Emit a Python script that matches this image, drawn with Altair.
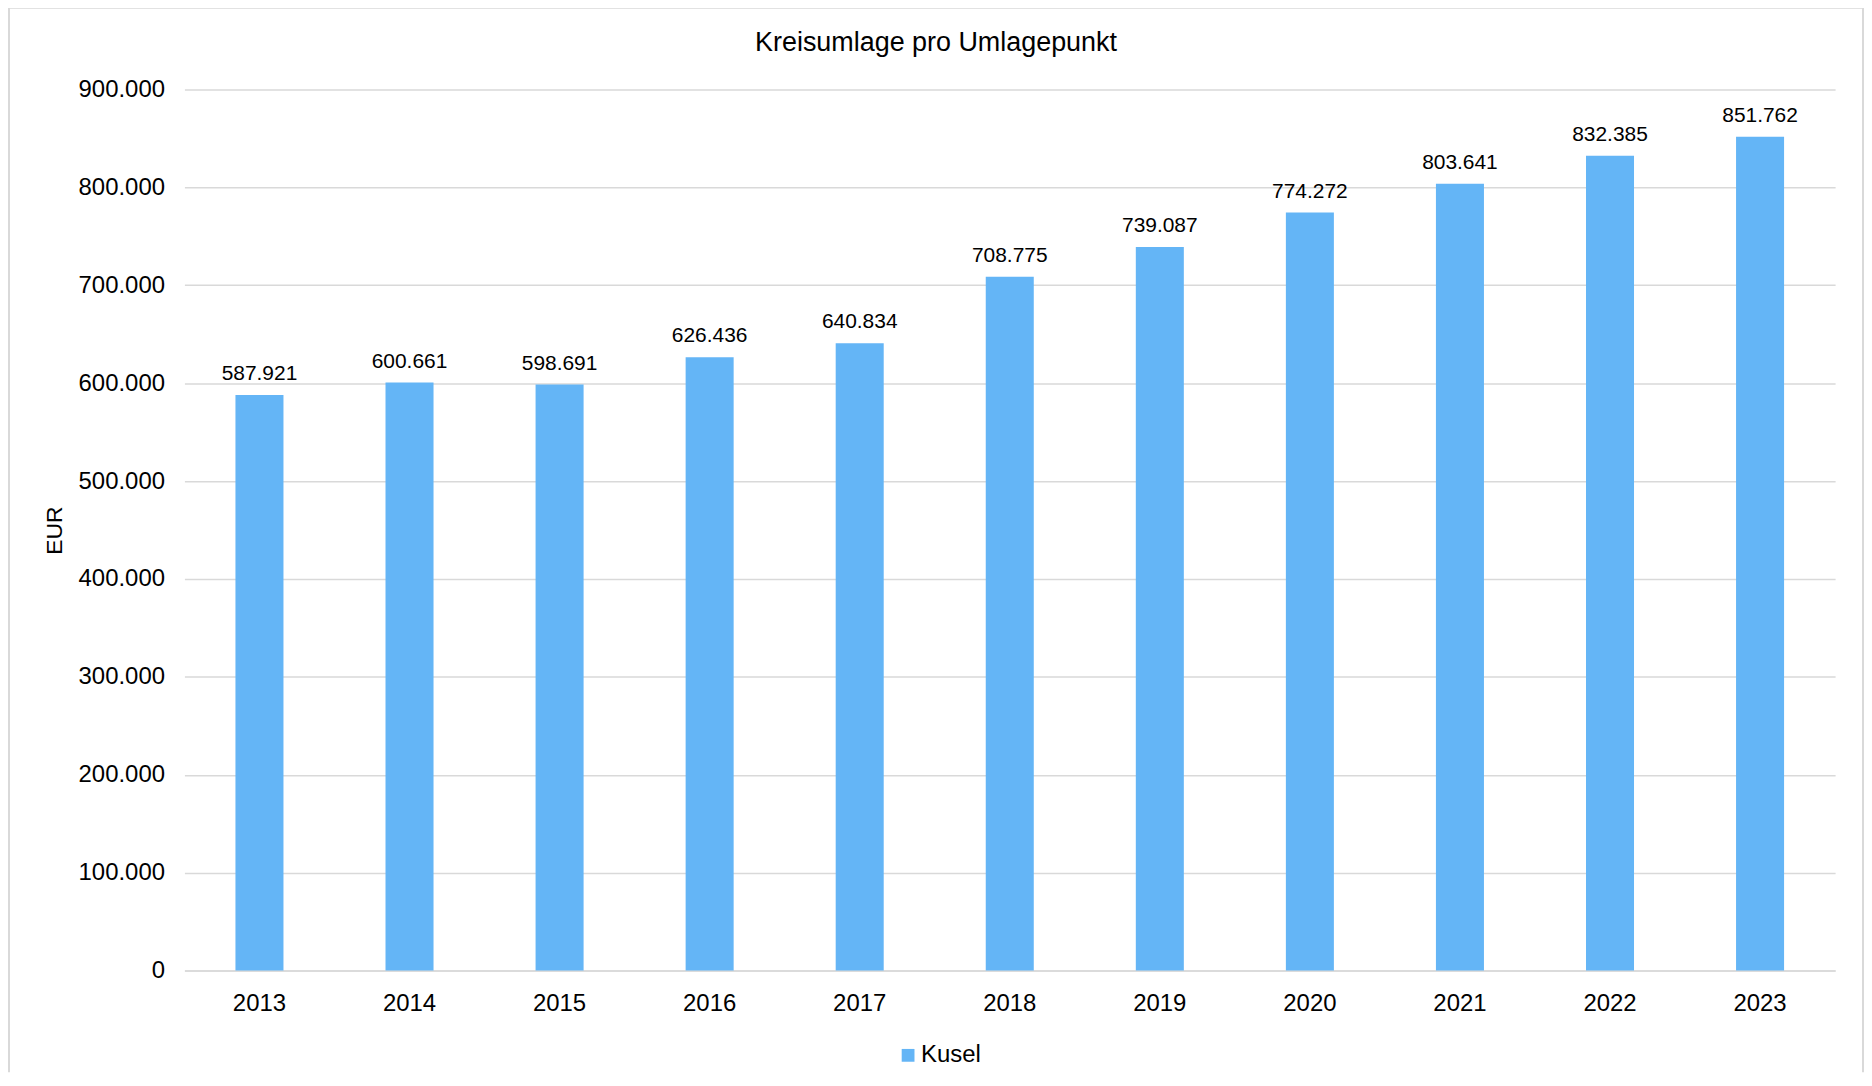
import altair as alt
import pandas as pd

years = ["2013", "2014", "2015", "2016", "2017", "2018", "2019", "2020", "2021", "2022", "2023"]
values = [587921, 600661, 598691, 626436, 640834, 708775, 739087, 774272, 803641, 832385, 851762]
series = ["Kusel"] * len(years)
y_ticks = [0, 100000, 200000, 300000, 400000, 500000, 600000, 700000, 800000, 900000]
title_text = "Kreisumlage pro Umlagepunkt"

df = pd.DataFrame({"Jahr": years, "Wert": values, "Serie": series})
df["Label"] = [f"{v:,}".replace(",", ".") for v in values]

FONT = "Liberation Sans"
BLUE = "#64B5F6"
GRID = "#D9D9D9"
W, H = 1656, 884

x = alt.X("Jahr:N", title=None, sort=years,
          scale=alt.Scale(paddingInner=0.68, paddingOuter=0.34),
          axis=alt.Axis(labelAngle=0, labelFontSize=24, labelFont=FONT, labelColor="#000000",
                        labelPadding=21, ticks=False, domainColor=GRID, domainWidth=1.5))
y = alt.Y("Wert:Q", title="EUR",
          scale=alt.Scale(domain=[0, 900000], nice=False),
          axis=alt.Axis(values=y_ticks, labelFontSize=24, labelFont=FONT, labelColor="#000000",
                        labelExpr="replace(format(datum.value, ','), ',', '.')",
                        labelPadding=20, ticks=False, domain=False,
                        gridColor=GRID, gridWidth=1.5,
                        titleFont=FONT, titleFontSize=23, titleFontWeight="normal",
                        titleColor="#000000", titlePadding=12))

bars = alt.Chart(df).mark_bar(color=BLUE).encode(
    x=x, y=y,
    color=alt.Color("Serie:N", scale=alt.Scale(range=[BLUE]),
                    legend=alt.Legend(title=None, orient="none", legendX=714, legendY=957,
                                      symbolType="square", symbolSize=165, symbolStrokeWidth=0,
                                      labelFont=FONT, labelFontSize=24, labelColor="#000000",
                                      labelOffset=1))
)

labels = alt.Chart(df).mark_text(font=FONT, fontSize=21, color="#000000",
                                 baseline="alphabetic", dy=-15).encode(
    x=alt.X("Jahr:N", sort=years), y="Wert:Q", text="Label:N"
)

single = pd.DataFrame({"t": [title_text]})
title = alt.Chart(single).mark_text(font=FONT, fontSize=27, color="#000000",
                                    align="center", baseline="middle").encode(
    x=alt.value(754), y=alt.value(-47), text="t:N")

# outer chart frame (left, top, right edges)
frame_left = alt.Chart(single).mark_rule(color=GRID, strokeWidth=2).encode(
    x=alt.value(-176), y=alt.value(-82), y2=alt.value(986))
frame_right = alt.Chart(single).mark_rule(color=GRID, strokeWidth=2).encode(
    x=alt.value(W + 28), y=alt.value(-82), y2=alt.value(986))
frame_top = alt.Chart(single).mark_rule(color=GRID, strokeWidth=2).encode(
    x=alt.value(-176), x2=alt.value(W + 28), y=alt.value(-82))

chart = (bars + labels + title + frame_left + frame_right + frame_top).properties(
    width=W, height=H,
    padding={"left": 0, "top": -3, "right": 0, "bottom": 0},
    background="white",
).configure_view(stroke=None)

chart.save("out.html", embed_options={"renderer": "svg", "actions": False})
